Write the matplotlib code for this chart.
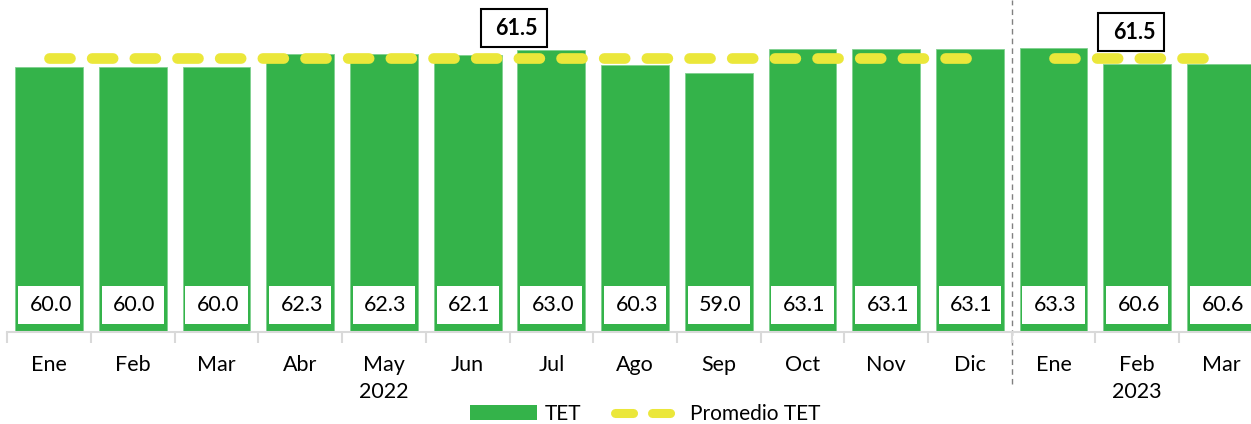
import matplotlib
matplotlib.use("Agg")
import matplotlib.pyplot as plt
import matplotlib.transforms as mtransforms
from matplotlib.patches import Rectangle, Patch
from matplotlib.lines import Line2D
import numpy as np

plt.rcParams['font.family'] = ['Lato', 'DejaVu Sans']

# ---- data ----
months = ["Ene", "Feb", "Mar", "Abr", "May\n2022", "Jun", "Jul", "Ago", "Sep",
          "Oct", "Nov", "Dic", "Ene", "Feb\n2023", "Mar"]
tet = [60.0, 60.0, 60.0, 62.3, 62.3, 62.1, 63.0, 60.3, 59.0,
       63.1, 63.1, 63.1, 63.3, 60.6, 60.6]
avg_2022 = 61.5
avg_2023 = 61.5
idx_2022 = [0, 11]   # first / last month index of 2022
idx_2023 = [12, 14]  # first / last month index of 2023

GREEN = "#34B34A"
YELLOW = "#EBE73A"
GRID = "#D9D9D9"

W, H = 1251, 424
fig = plt.figure(figsize=(W / 100, H / 100), dpi=100)
ax = fig.add_axes([7.3 / W, (H - 331.5) / H, 1255.5 / W, 331.5 / H])

x = np.arange(len(tet))
bw = 0.81
ax.bar(x, tet, width=bw, color=GREEN, edgecolor="#7FD08F", linewidth=0.6, zorder=2)
ymin, ymax = 15.2, 71.4
ax.set_ylim(ymin, ymax)
ax.set_xlim(-0.5, len(tet) - 0.5)

# value labels in white boxes at the bottom of bars
for xi, v in zip(x, tet):
    inset = 0.033
    ax.add_patch(Rectangle((xi - bw / 2 + inset, 16.5), bw - 2 * inset, 6.4,
                           facecolor="white", edgecolor="none", zorder=3))
    ax.text(xi + 0.02, 19.7, f"{v:.1f}", ha="center", va="center",
            fontsize=15.5, color="black", zorder=4)

# average lines
dash_kw = dict(color=YELLOW, lw=7.7, dashes=(1.96, 2.03),
               dash_capstyle="round", solid_capstyle="round", zorder=5)
ax.plot(idx_2022, [avg_2022, avg_2022], **dash_kw)
ax.plot(idx_2023, [avg_2023, avg_2023], **dash_kw)

# average annotations
for cx, cy, val in [(5.55, 66.6, avg_2022), (12.93, 65.95, avg_2023)]:
    bwid, bh = 0.79, 6.44
    ax.add_patch(Rectangle((cx - bwid / 2, cy - bh / 2), bwid, bh,
                           facecolor="white", edgecolor="black", lw=1.5,
                           zorder=6, clip_on=False))
    ax.text(cx + 0.03, cy, f"{val:.1f}", ha="center", va="center",
            fontsize=15.5, fontweight="bold", zorder=7)

# year separator
trans = mtransforms.blended_transform_factory(ax.transData, ax.transAxes)
ax.plot([11.5, 11.5], [-0.158, 1.0], transform=trans, color="#808080",
        lw=1, ls=(0, (4, 3)), clip_on=False, zorder=1)

# axes styling
for s in ["top", "left", "right"]:
    ax.spines[s].set_visible(False)
ax.spines["bottom"].set_color(GRID)
ax.spines["bottom"].set_linewidth(1.5)
ax.set_yticks([])
ax.set_xticks(x)
ax.set_xticklabels(months, fontsize=15.5, linespacing=1.4)
ax.tick_params(axis="x", which="major", length=0, pad=17)
ax.set_xticks(np.arange(-0.5, len(tet), 1), minor=True)
ax.tick_params(axis="x", which="minor", length=8, width=1.5, color=GRID)

# legend
handles = [Patch(facecolor=GREEN, edgecolor="none"),
           Line2D([0], [0], color=YELLOW, lw=6.5, dashes=(2.0, 2.1),
                  dash_capstyle="round")]
fig.legend(handles, ["TET", "Promedio TET"], loc="center",
           bbox_to_anchor=(645 / W, 1 - 414 / H), ncol=2, frameon=False,
           fontsize=15, handlelength=3.2, handleheight=0.7,
           handletextpad=0.4, columnspacing=1.6)

fig.savefig("out.png", dpi=100)
